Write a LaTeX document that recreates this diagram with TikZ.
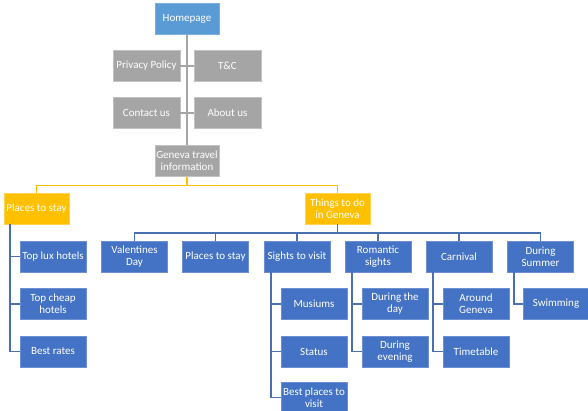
\documentclass[tikz,border=0pt]{standalone}
\usepackage{fontspec}
\setmainfont{Carlito}
\definecolor{obox}{HTML}{4472C4}
\definecolor{oboxb}{HTML}{6E8FD0}
\definecolor{hbox}{HTML}{5B9BD5}
\definecolor{gbox}{HTML}{A5A5A5}
\definecolor{gboxb}{HTML}{C2C2C2}
\definecolor{ybox}{HTML}{FFC000}
\definecolor{yboxb}{HTML}{FFD34F}
\definecolor{bline}{HTML}{4A70B0}
\tikzset{
  boxbase/.style={rectangle, minimum width=66pt, minimum height=31pt, inner sep=0pt,
    align=center, text=white, font=\fontsize{11}{12}\selectfont, line width=0.8pt},
  bluebox/.style={boxbase, fill=obox, draw=oboxb},
  homebox/.style={boxbase, fill=hbox, draw=hbox!80!white, minimum width=64pt},
  graybox/.style={boxbase, fill=gbox, draw=gboxb, minimum width=67pt},
  yelbox/.style={boxbase, fill=ybox, draw=yboxb, minimum width=65pt},
  grayline/.style={draw=gbox, line width=1.8pt},
  yelline/.style={draw=ybox, line width=1.8pt},
  blueline/.style={draw=bline, line width=1.8pt},
}
\begin{document}
\begin{tikzpicture}[x=1pt,y=-1pt]
\useasboundingbox (0,0) rectangle (588,410);
% top
\node[homebox] (home) at (187,18.5) {Homepage};
\node[graybox] (priv) at (146.5,66) {Privacy Policy};
\node[graybox] (tc) at (227.5,66) {T\&C};
\node[graybox] (contact) at (146.5,113) {Contact us};
\node[graybox] (about) at (227.5,113) {About us};
\node[graybox, minimum width=64pt] (gen) at (187,161) {Geneva travel\\information};
\draw[grayline] (home.south) -- (gen.north);
\draw[grayline] (priv.east) -- (priv.east -| home.south);
\draw[grayline] (tc.west) -- (tc.west -| home.south);
\draw[grayline] (contact.east) -- (contact.east -| home.south);
\draw[grayline] (about.west) -- (about.west -| home.south);
% level 2
\node[yelbox] (stay) at (36.5,208.5) {Places to stay};
\node[yelbox] (things) at (337.5,208.5) {Things to do\\in Geneva};
\coordinate (yb) at (187,185.5);
\draw[yelline] (gen.south) -- (yb);
\draw[yelline] (yb) -| (stay.north);
\draw[yelline] (yb) -| (things.north);
% level 3
\node[bluebox] (val) at (134.5,256.5) {Valentines\\Day};
\node[bluebox] (pstay) at (215.5,256.5) {Places to stay};
\node[bluebox] (sights) at (297,256.5) {Sights to visit};
\node[bluebox] (rom) at (378,256.5) {Romantic\\sights};
\node[bluebox] (carn) at (459,256.5) {Carnival};
\node[bluebox] (summer) at (540.5,256.5) {During\\Summer};
\coordinate (bb) at (337.5,233);
\draw[blueline] (things.south) -- (bb);
\foreach \n in {val,pstay,sights,rom,carn,summer} {
  \draw[blueline] (bb) -| (\n.north);
}
% places to stay children
\node[bluebox] (lux) at (53,256.5) {Top lux hotels};
\node[bluebox] (cheap) at (53,304) {Top cheap\\hotels};
\node[bluebox] (rates) at (53,351.5) {Best rates};
\coordinate (s0) at ([xshift=6pt]stay.south west);
\foreach \n in {lux,cheap,rates} { \draw[blueline] (s0) |- (\n.west); }
% sights children
\node[bluebox] (mus) at (314,304) {Musiums};
\node[bluebox] (status) at (314,351.5) {Status};
\node[bluebox] (bestp) at (314,397.5) {Best places to\\visit};
\coordinate (v0) at ([xshift=7pt]sights.south west);
\foreach \n in {mus,status,bestp} { \draw[blueline] (v0) |- (\n.west); }
% romantic children
\node[bluebox] (day) at (395,304) {During the\\day};
\node[bluebox] (eve) at (395,351.5) {During\\evening};
\coordinate (r0) at ([xshift=7pt]rom.south west);
\foreach \n in {day,eve} { \draw[blueline] (r0) |- (\n.west); }
% carnival children
\node[bluebox] (around) at (476,304) {Around\\Geneva};
\node[bluebox] (time) at (476,351.5) {Timetable};
\coordinate (c0) at ([xshift=7pt]carn.south west);
\foreach \n in {around,time} { \draw[blueline] (c0) |- (\n.west); }
% summer children
\node[bluebox] (swim) at (556,304) {Swimming};
\coordinate (u0) at ([xshift=7pt]summer.south west);
\draw[blueline] (u0) |- (swim.west);
\end{tikzpicture}
\end{document}
